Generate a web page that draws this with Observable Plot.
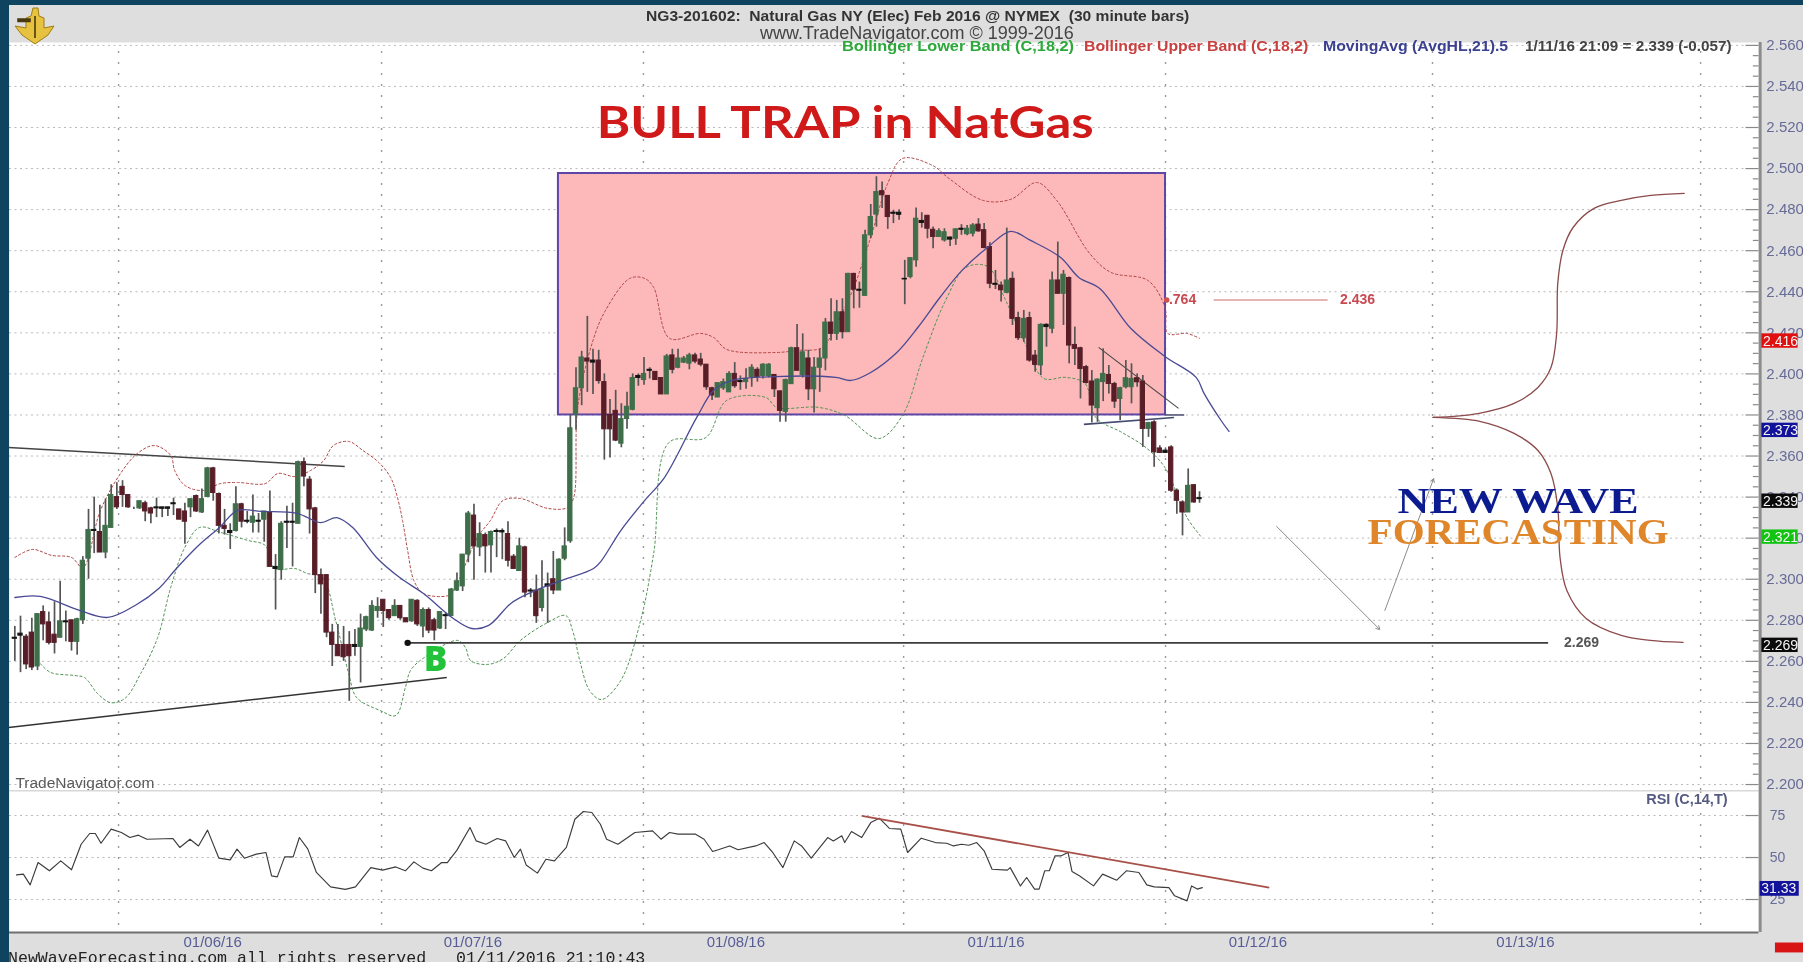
<!DOCTYPE html>
<html><head><meta charset="utf-8">
<script src="https://cdn.jsdelivr.net/npm/d3@7"></script>
<script src="https://cdn.jsdelivr.net/npm/@observablehq/plot@0.6"></script>
<style>
html,body{margin:0;padding:0;background:#0f4460;overflow:hidden}
#stage{position:absolute;left:0;top:0;width:1803px;height:962px;overflow:hidden;filter:blur(.6px);background:#0f4460}
#panel{position:absolute;left:9px;top:5px;right:0;bottom:0;background:#dedede}
#stage svg.plt{position:absolute;left:0}
.h{position:absolute;white-space:pre;font-family:"Liberation Sans",Arial,sans-serif;line-height:1;transform-origin:0 50%}
</style></head><body>
<div id="stage"><div id="panel"></div></div>
<script>
// 30-minute bars, numbered from the left edge of the chart
const barOpen=[2.2715,2.2735,2.272,2.274,2.2575,2.284,2.279,2.273,2.2715,2.2795,
2.28,2.2695,2.28,2.31,2.324,2.323,2.313,2.325,2.34,2.345,
2.341,2.3345,2.3345,2.337,2.3345,2.335,2.335,2.335,2.337,2.334,
2.333,2.335,2.3405,2.3325,2.34,2.354,2.3415,2.326,2.3235,2.3235,
2.3365,2.3285,2.3275,2.328,2.329,2.3325,2.306,2.3045,2.328,2.328,
2.327,2.357,2.3485,2.3345,2.302,2.302,2.274,2.268,2.268,2.268,
2.268,2.267,2.2755,2.275,2.2845,2.29,2.285,2.282,2.287,2.281,
2.2795,2.2895,2.277,2.285,2.28,2.276,2.2825,2.282,2.2945,2.2965,
2.312,2.331,2.3155,2.3215,2.3165,2.3235,2.3235,2.322,2.311,2.304,
2.3155,2.2945,2.2945,2.286,2.2975,2.3,2.2945,2.31,2.3185,2.38,
2.393,2.4075,2.4065,2.4065,2.396,2.38,2.382,2.366,2.378,2.3825,
2.399,2.397,2.4015,2.401,2.398,2.39,2.409,2.403,2.4055,2.405,
2.409,2.407,2.4045,2.393,2.3885,2.393,2.391,2.4,2.3965,2.396,
2.3985,2.402,2.399,2.399,2.3995,2.3915,2.3815,2.395,2.4125,2.3995,
2.4075,2.3925,2.403,2.4075,2.425,2.4195,2.43,2.4203,2.4487,2.441,
2.438,2.4675,2.4776,2.489,2.4867,2.4785,2.4785,2.4463,2.4472,2.4553,
2.4745,2.477,2.4702,2.4667,2.465,2.4664,2.4658,2.4707,2.468,2.4683,
2.4727,2.47,2.4618,2.4439,2.443,2.4395,2.4463,2.4272,2.4174,2.4272,
2.4089,2.4041,2.4239,2.422,2.4455,2.439,2.4467,2.4141,2.4125,2.4033,
2.3963,2.3833,2.396,2.3995,2.3951,2.3878,2.3935,2.3935,2.3979,2.3963,
2.3732,2.3764,2.3637,2.3626,2.3642,2.3431,2.3374,2.3325,2.3458,2.3395];
const barHigh=[2.277,2.282,2.273,2.281,2.283,2.287,2.284,2.289,2.299,2.2845,
2.28,2.281,2.311,2.334,2.34,2.336,2.339,2.346,2.347,2.348,
2.341,2.335,2.338,2.338,2.335,2.3395,2.335,2.335,2.3395,2.334,
2.337,2.339,2.341,2.344,2.3545,2.3545,2.342,2.334,2.327,2.345,
2.337,2.333,2.341,2.332,2.333,2.343,2.312,2.328,2.3355,2.337,
2.3575,2.359,2.35,2.335,2.305,2.302,2.278,2.278,2.277,2.2745,
2.2755,2.283,2.282,2.2895,2.291,2.29,2.285,2.29,2.287,2.281,
2.29,2.29,2.286,2.286,2.281,2.284,2.2835,2.2955,2.303,2.312,
2.333,2.3365,2.3275,2.3225,2.3235,2.3245,2.3245,2.328,2.312,2.32,
2.316,2.2955,2.302,2.309,2.303,2.3135,2.31,2.325,2.38,2.403,
2.411,2.428,2.412,2.4115,2.40,2.3875,2.392,2.3855,2.391,2.4,
2.4,2.408,2.403,2.401,2.398,2.4095,2.412,2.412,2.4085,2.41,
2.41,2.41,2.4045,2.3935,2.3955,2.3975,2.401,2.4055,2.399,2.4025,
2.4045,2.403,2.405,2.405,2.3995,2.3915,2.3975,2.413,2.424,2.4195,
2.4115,2.408,2.412,2.427,2.4366,2.4358,2.4366,2.449,2.449,2.4447,
2.47,2.4825,2.496,2.4935,2.4867,2.4797,2.48,2.4553,2.4564,2.4808,
2.4785,2.4772,2.4715,2.4707,2.4707,2.4667,2.4707,2.4727,2.4723,2.4732,
2.4756,2.4732,2.4639,2.4504,2.4447,2.471,2.4496,2.43,2.4309,2.43,
2.4114,2.4244,2.4244,2.4496,2.4642,2.4504,2.4472,2.4228,2.413,2.4041,
2.4016,2.3976,2.4122,2.4041,2.3959,2.3935,2.4065,2.4049,2.4,2.3992,
2.3764,2.3772,2.365,2.3635,2.365,2.3439,2.3382,2.3537,2.346,2.3426];
const barLow=[2.26,2.2545,2.256,2.2555,2.2555,2.27,2.268,2.2636,2.2715,2.2695,
2.265,2.263,2.278,2.30,2.3125,2.313,2.31,2.325,2.334,2.335,
2.3345,2.334,2.334,2.328,2.327,2.33,2.33,2.3305,2.331,2.329,
2.317,2.33,2.3325,2.332,2.34,2.338,2.322,2.3215,2.3145,2.323,
2.325,2.327,2.3225,2.3225,2.318,2.306,2.285,2.2995,2.315,2.306,
2.327,2.345,2.322,2.293,2.283,2.2715,2.2575,2.2625,2.26,2.2405,
2.2625,2.2495,2.2745,2.2745,2.281,2.2765,2.28,2.282,2.28,2.279,
2.279,2.277,2.2715,2.2735,2.27,2.2755,2.2755,2.282,2.294,2.294,
2.308,2.2995,2.311,2.303,2.303,2.3105,2.3095,2.306,2.305,2.304,
2.291,2.291,2.2785,2.284,2.2785,2.2925,2.2945,2.309,2.3175,2.3725,
2.3845,2.391,2.39,2.395,2.358,2.359,2.367,2.364,2.373,2.382,
2.394,2.3945,2.3975,2.397,2.39,2.39,2.4,2.4025,2.405,2.402,
2.405,2.4035,2.392,2.387,2.3885,2.392,2.391,2.393,2.392,2.3925,
2.3935,2.396,2.3975,2.398,2.3885,2.3765,2.3765,2.395,2.4015,2.398,
2.387,2.381,2.391,2.4015,2.416,2.4163,2.417,2.4203,2.4317,2.432,
2.4379,2.4659,2.4715,2.4805,2.4704,2.4732,2.4748,2.4337,2.4463,2.452,
2.471,2.4658,2.461,2.4665,2.4642,2.462,2.4626,2.4675,2.4673,2.4667,
2.469,2.461,2.4415,2.4411,2.435,2.439,2.4236,2.4163,2.4154,2.4057,
2.4008,2.3992,2.413,2.4195,2.439,2.4236,2.4049,2.4041,2.3878,2.3951,
2.3761,2.3764,2.3865,2.3902,2.3832,2.3772,2.3927,2.3854,2.3935,2.3642,
2.3691,2.3545,2.3614,2.3614,2.3423,2.3317,2.3211,2.3325,2.337,2.337];
const barClose=[2.271,2.2725,2.2585,2.257,2.283,2.278,2.269,2.269,2.2795,2.279,
2.2695,2.2805,2.309,2.324,2.3235,2.313,2.326,2.341,2.335,2.341,
2.335,2.3345,2.338,2.333,2.332,2.3345,2.3343,2.3343,2.3365,2.329,
2.328,2.339,2.333,2.339,2.354,2.342,2.326,2.3245,2.3225,2.3365,
2.328,2.328,2.3305,2.3285,2.333,2.306,2.305,2.327,2.3275,2.3275,
2.357,2.35,2.334,2.302,2.2975,2.274,2.268,2.2625,2.262,2.2625,
2.267,2.276,2.2815,2.287,2.2865,2.2845,2.281,2.287,2.281,2.279,
2.29,2.278,2.285,2.275,2.275,2.284,2.282,2.295,2.299,2.312,
2.332,2.316,2.322,2.316,2.323,2.323,2.3228,2.309,2.305,2.316,
2.2935,2.294,2.282,2.295,2.2965,2.2945,2.3095,2.316,2.3735,2.393,
2.408,2.406,2.4055,2.3965,2.373,2.373,2.3675,2.378,2.384,2.398,
2.398,2.4,2.402,2.397,2.39,2.4085,2.402,2.4075,2.4075,2.409,
2.406,2.4045,2.3935,2.3895,2.3955,2.396,2.4,2.394,2.396,2.3975,
2.403,2.3985,2.4045,2.4045,2.3925,2.382,2.397,2.4125,2.4015,2.4105,
2.3925,2.403,2.4075,2.425,2.4195,2.43,2.4203,2.4487,2.441,2.4405,
2.4675,2.4764,2.4886,2.487,2.4764,2.478,2.4775,2.446,2.4564,2.4756,
2.4735,2.4707,2.4667,2.4695,2.469,2.4654,2.4704,2.4702,2.4707,2.4723,
2.4694,2.4613,2.4439,2.4434,2.4407,2.4455,2.4268,2.4174,2.4268,2.4065,
2.4044,2.4239,2.4228,2.4455,2.439,2.4483,2.4138,2.4122,2.4024,2.3956,
2.3846,2.3972,2.4,2.3951,2.3865,2.393,2.3979,2.3976,2.3959,2.3732,
2.3761,2.3618,2.3615,2.3615,2.3431,2.3382,2.3325,2.3455,2.3374,2.339];

// indicators: [bar number], [value]
const maBar=[1,5.5,12.4,17.4,22.5,26.4,29.5,33.4,37.1,40.3,44.5,50.9,54.9,57.8,60.6,64.8,68.9,73.1,78.1,81.6,84.6,88.5,92,97.5,103.1,104.5,107.9,112.1,115.6,121.3,124.3,127.5,135.1,145.8,148.5,152,156.6,160.3,164.2,168.1,172.6,176.7,180.2,185.5,188.7,192.4,197.9,203.9,209.4,210.8,213.8,215.2];
const maVal=[2.2911,2.2916,2.2848,2.2814,2.2877,2.2955,2.3052,2.3164,2.3252,2.3335,2.333,2.332,2.3276,2.33,2.3252,2.3106,2.3008,2.293,2.2814,2.276,2.2775,2.2882,2.2935,2.2994,2.3052,2.3091,2.3237,2.3383,2.3495,2.3788,2.392,2.3968,2.3987,2.3983,2.3968,2.4007,2.4104,2.4226,2.4372,2.4504,2.4616,2.4694,2.465,2.4567,2.447,2.4416,2.4221,2.4085,2.3983,2.3905,2.3773,2.372];
const upperBar=[1,4.1,7.5,11,13,16.1,19.65,22.6,25.6,28.5,29.2,31,34.1,37.3,40.3,45.2,47.4,50.4,53.2,55.5,57.2,59.9,62.4,65.2,67.3,68.5,69.4,70.3,71.4,73.1,77.4,78.4,82.6,84.9,87.1,90.2,95,98.5,99.6,100.3,103,105.2,109.5,112.1,113.7,116.5,122,124.3,126.6,135.1,139,143.5,145.8,148.8,152,155,157.6,162.9,165.8,171.8,176.7,181.3,184.8,190.6,194.4,200.9,203.9,204.4,207.8,210];
const upperVal=[2.3106,2.3145,2.3116,2.3106,2.3057,2.3335,2.3515,2.3612,2.3651,2.3603,2.3529,2.3457,2.3432,2.3466,2.3471,2.3466,2.3515,2.35,2.353,2.3578,2.3651,2.3671,2.3627,2.3569,2.3495,2.3398,2.3286,2.314,2.2994,2.293,2.292,2.2945,2.3203,2.3286,2.3383,2.3393,2.3345,2.3349,2.3398,2.3837,2.4163,2.4309,2.4465,2.4465,2.4421,2.4173,2.4197,2.4177,2.4119,2.4104,2.4114,2.4129,2.4236,2.4406,2.4665,2.4928,2.5049,2.5015,2.4952,2.4845,2.485,2.4932,2.4845,2.4587,2.4494,2.4455,2.4324,2.4197,2.4197,2.4173];
const lowerBar=[5.5,7.3,11.5,13.3,15.6,17.9,20.4,23.2,26.2,28.5,31,33.6,37.3,42.1,45.2,46.8,50.4,52.6,55.3,57.6,59.9,61.3,65.5,68.2,69.9,70.8,73,79.1,80.5,81.4,84.4,87.2,90.2,95,98.2,99.4,100.8,102.4,104.5,107.9,111.4,113.7,116.4,122.9,126.6,133.5,135.4,142.8,147.4,153.4,157.6,161.2,165.2,168.8,172.6,175.8,179.4,182.5,186.4,189.8,191.7,196.3,200.5,203.9,207.8,210.4];
const lowerVal=[2.2589,2.2546,2.2531,2.2521,2.2443,2.2399,2.2419,2.254,2.2716,2.296,2.3155,2.3252,2.3228,2.3189,2.3164,2.3052,2.3052,2.3028,2.3008,2.2799,2.2541,2.2424,2.236,2.2336,2.2473,2.2555,2.2614,2.2702,2.2667,2.2604,2.2585,2.2614,2.2702,2.2789,2.2823,2.275,2.2589,2.2458,2.2414,2.2507,2.2799,2.3125,2.3666,2.369,2.3871,2.3885,2.3837,2.3837,2.3798,2.3685,2.3798,2.408,2.4358,2.4518,2.4523,2.4358,2.4138,2.3978,2.3983,2.3953,2.3788,2.3715,2.3642,2.3544,2.33,2.3203];
const rsiBar=[1.3,2.5,3.7,5.1,7.1,9.1,11,12.7,14.2,15.2,16.2,18,19.8,21.3,22.8,24.3,28.9,30.1,31.9,33.4,35,37,39,40.2,41.5,43.6,45.3,46.3,47.3,48.6,50.1,51.2,52.7,54.2,56.7,59.3,61.1,63.8,65.9,68.2,69.9,71.4,73,74.5,76.3,77.3,79,81.3,82.4,84.1,86.1,87.6,89.1,90.2,91.2,93.2,94.7,96.2,98.3,99.8,101.3,102.8,104.3,105.4,107.4,110.4,113.5,115,116.5,118,121.1,122.6,124.1,125.1,127.1,128.6,131.7,133.2,134.7,136.5,138.5,139.8,141.5,144.4,145.4,146.9,147.4,148.6,150.4,152,153.5,155.3,157.3,158.5,160.9,163.4,165.4,166.6,168,169.3,170.7,172,173.4,176.1,176.6,178.4,179.5,180.9,181.7,182.7,183.5,184.5,185.6,186.8,187.5,188.8,191.3,192.9,195.4,197.1,199.3,200.7,202,204.6,205.6,207.8,208.6,209.6,210.5];
const rsiVal=[39.7,40.1,33.7,47,42.1,48,42.7,57.9,64.3,64.3,58.5,66.9,64.9,61.9,63.3,60.9,61.3,56,60.9,56.9,66.3,49.6,48.6,55,49.6,52,53,39.1,38.5,50.4,50.4,61.9,55,41.1,32.5,31,32.5,44,42.5,44.4,42.1,47.4,43.7,42.1,47,47,54.4,67.9,59.9,57.9,61.3,59.9,50,55,45.6,40.7,49,48,56,72.8,77.4,76.8,69.8,60.9,57.9,64.9,65.9,60.9,64.9,63.9,63.9,60.9,53.6,54.6,56.9,54.6,56.9,58.9,53,44,59.9,56.9,49.6,61.9,59.9,62.9,58.9,65.5,61.9,70.8,73.4,67.3,66.9,53,61.5,58.9,58.5,56.9,57.9,57.3,58.9,54,43,42.5,44,33.1,38.1,31.2,31.2,42.1,42.1,51,51,53,41.7,39.1,33.1,40.1,36.5,42.1,41.1,33.7,32.5,32.1,27.2,24.2,33.1,31.2,32.1];

// forecast brace
const braceUpBar=[251.2,259.1,265.5,269.7,272,273,273.2,274.1,275.9,279.6,284.4,289.6,295.5];
const braceUpVal=[2.3788,2.3807,2.3856,2.3934,2.4031,2.4197,2.4441,2.4601,2.4713,2.4806,2.4845,2.4869,2.4879];
const braceDownBar=[251.2,259.6,265.5,269.7,272,273.2,273.6,274.8,278.2,284.4,289.5,295.3];
const braceDownVal=[2.3788,2.3768,2.371,2.3627,2.3515,2.3349,2.3106,2.2945,2.2809,2.2726,2.2702,2.2692];

// axes and labels
const priceTicks=[2.2,2.22,2.24,2.26,2.28,2.3,2.32,2.34,2.36,2.38,2.4,2.42,2.44,2.46,2.48,2.5,2.52,2.54,2.56];
const priceMinor=d3.range(2.205,2.56,0.005).filter(v=>Math.abs(v*50-Math.round(v*50))>0.01);
const dayLineBars=[19.3,65.7,111.9,157.8,204,251.1,298.4];
const dateLabels=["01/06/16","01/07/16","01/08/16","01/11/16","01/12/16","01/13/16"];
const dateBars=[35.9,81.8,128.2,174.1,220.3,267.5];
const rsiTicks=[25,50,75];
const priceTags=[["2.416",2.416,"#e01010"],["2.373",2.3725,"#12129a"],["2.339",2.338,"#0a0a0a"],["2.321",2.3205,"#12c412"],["2.269",2.2678,"#0a0a0a"]];

const X={type:"linear",domain:[0.06,308.7],axis:null};
const WIDTH=1803, mr=44.5, ml=9;
const sans='"Liberation Sans",Arial,sans-serif';
const bars=barOpen.map((o,i)=>({n:i+1,o,h:barHigh[i],l:barLow[i],c:barClose[i]}));
const barColor=d=>Math.abs(d.c-d.o)<0.0012?"#141414":d.c>d.o?"#3f6f4a":"#581e28";
const xy=(a,b)=>a.map((n,i)=>({n,v:b[i]}));
const note=(text,n,v,o)=>Plot.text([{text,n,v}],{x:"n",y:"v",text:"text",fontFamily:sans,textAnchor:"start",...o});
const seg=(n1,v1,n2,v2,o)=>Plot.link([{n1,v1,n2,v2}],{x1:"n1",y1:"v1",x2:"n2",y2:"v2",...o});

const main=Plot.plot({
  width:WIDTH,height:790,marginLeft:ml,marginRight:mr,marginTop:42,marginBottom:0,
  style:{background:"transparent"},className:"plt",
  x:X,y:{type:"linear",domain:[2.1971,2.5614],axis:null},
  marks:[
    Plot.frame({fill:"#fff"}),
    Plot.ruleY(priceTicks,{x1:0.06,x2:306.4,stroke:"#b9b9b9",strokeWidth:1,strokeDasharray:"2 3.5"}),
    Plot.ruleX(dayLineBars,{y1:2.1971,y2:2.56,stroke:"#9a9a9a",strokeWidth:1.4,strokeDasharray:"2 9"}),
    // bull-trap zone
    Plot.rect([{x1:96.9,x2:204,y1:2.38,y2:2.4976}],{x1:"x1",x2:"x2",y1:"y1",y2:"y2",fill:"#fdb9b9",stroke:"#5f46a6",strokeWidth:2}),
    seg(204,2.38,207.3,2.38,{stroke:"#55557a",strokeWidth:1.6}),
    // triangle trendlines
    seg(-0.1,2.3642,59.2,2.3549,{stroke:"#444",strokeWidth:1.5}),
    seg(-0.1,2.2278,77.2,2.2521,{stroke:"#333",strokeWidth:1.5}),
    seg(192.2,2.4129,206.3,2.3832,{stroke:"#444",strokeWidth:1.1}),
    seg(189.6,2.3754,205.5,2.3788,{stroke:"#444a70",strokeWidth:1.6}),
    // Bollinger bands
    Plot.line(xy(upperBar,upperVal),{x:"n",y:"v",stroke:"#b04444",strokeWidth:1,strokeDasharray:"2.2 2.4",curve:"catmull-rom"}),
    Plot.line(xy(lowerBar,lowerVal),{x:"n",y:"v",stroke:"#4c9050",strokeWidth:1,strokeDasharray:"2.2 2.6",curve:"catmull-rom"}),
    // candles
    Plot.ruleX(bars,{x:"n",y1:"l",y2:"h",stroke:"#555",strokeWidth:1.7}),
    Plot.rect(bars,{x1:d=>d.n-0.38,x2:d=>d.n+0.38,y1:d=>Math.min(d.o,d.c),y2:d=>Math.max(d.o,d.c),fill:barColor,stroke:barColor,strokeWidth:1}),
    // moving average
    Plot.line(xy(maBar,maVal),{x:"n",y:"v",stroke:"#4a4a94",strokeWidth:1.3,curve:"catmull-rom"}),
    // 2.269 buy line
    seg(70.3,2.269,271.5,2.269,{stroke:"#3c3c3c",strokeWidth:1.6}),
    Plot.dot([{n:70.3,v:2.269}],{x:"n",y:"v",r:3.2,fill:"#111"}),
    note("B",75.2,2.2609,{textAnchor:"middle",fontFamily:'"Open Sans",sans-serif',fontWeight:800,fontSize:35,fill:"#22c23a"}),
    note("2.269",274.3,2.269,{fontSize:14,fontWeight:700,fill:"#555"}),
    // fib note
    Plot.dot([{n:204.2,v:2.436}],{x:"n",y:"v",r:2.8,fill:"#d05050"}),
    note(".764",204.6,2.436,{fontSize:14,fontWeight:700,fill:"#c84a50"}),
    seg(212.5,2.436,232.6,2.436,{stroke:"#d06a6a",strokeWidth:1.2}),
    note("2.436",234.8,2.436,{fontSize:14,fontWeight:700,fill:"#c84a50"}),
    // forecast path
    Plot.arrow([{a:223.6,b:2.3257,c:241.8,d:2.2755},{a:242.7,b:2.2848,c:251.3,d:2.349}],{x1:"a",y1:"b",x2:"c",y2:"d",stroke:"#8c8c8c",strokeWidth:1,headLength:6,bend:false}),
    Plot.line(xy(braceUpBar,braceUpVal),{x:"n",y:"v",stroke:"#8c4a4a",strokeWidth:1.3,curve:"catmull-rom"}),
    Plot.line(xy(braceDownBar,braceDownVal),{x:"n",y:"v",stroke:"#8c4a4a",strokeWidth:1.3,curve:"catmull-rom"}),
    note("BULL TRAP in NatGas",147.5,2.5215,{textAnchor:"middle",fontFamily:'Lato,"Open Sans",sans-serif',fontWeight:700,fontSize:43,fill:"#d01a1a",className:"fit-title"}),
    note("NEW WAVE",266.2,2.3375,{textAnchor:"middle",fontFamily:'"Liberation Serif",serif',fontWeight:700,fontSize:35,fill:"#0c1c90",className:"fit-new"}),
    note("FORECASTING",266.2,2.3228,{textAnchor:"middle",fontFamily:'"Liberation Serif",serif',fontWeight:700,fontSize:35,fill:"#e0862a",className:"fit-fore"}),
    note("TradeNavigator.com",1.1,2.2005,{fontSize:15.5,fill:"#5a5a5a"}),
    // right axis
    Plot.ruleY(priceTicks,{x1:306.4,x2:308.7,stroke:"#8a8a8a",strokeWidth:1.2}),
    Plot.ruleY(priceMinor,{x1:307.7,x2:308.7,stroke:"#8a8a8a",strokeWidth:1.2}),
    Plot.ruleX([308.9],{y1:2.1971,y2:2.5614,stroke:"#8c8c8c",strokeWidth:3}),
    Plot.text(priceTicks,{x:310,y:d=>d,text:d=>d3.format(".3f")(d),textAnchor:"start",fontFamily:sans,fontSize:15,fill:"#666b98"}),
    // current-value tags
    Plot.rect(priceTags,{x1:309.2,x2:315.6,y1:d=>d[1]-0.0035,y2:d=>d[1]+0.0035,fill:d=>d[2]}),
    Plot.text(priceTags,{x:309.4,y:d=>d[1],text:d=>d[0],textAnchor:"start",fontFamily:sans,fontSize:14,fontWeight:400,fill:"#f4f4f4"})
  ]
});
main.style.top="0";main.style.height="790px";main.style.maxWidth="none";

// stretch the three hand-lettered annotations to their drawn widths
[["fit-title",497],["fit-new",241],["fit-fore",301]].forEach(([c,w])=>{
  main.querySelectorAll(`.${c} text`).forEach(t=>{t.setAttribute("textLength",w);t.setAttribute("lengthAdjust","spacingAndGlyphs");});
});

const rsi=Plot.plot({
  width:WIDTH,height:172,marginLeft:ml,marginRight:mr,marginTop:0,marginBottom:30,
  style:{background:"transparent"},className:"plt",
  x:X,y:{type:"linear",domain:[5.36,89.9],axis:null},
  marks:[
    Plot.frame({fill:"#fff"}),
    Plot.ruleY(rsiTicks,{x1:0.06,x2:306.4,stroke:"#b9b9b9",strokeWidth:1,strokeDasharray:"2 3.5"}),
    Plot.ruleX(dayLineBars,{y1:9.5,y2:89.9,stroke:"#9a9a9a",strokeWidth:1.4,strokeDasharray:"2 9"}),
    Plot.ruleY([89.9],{x1:0.06,x2:308.7,stroke:"#d8d8d8",strokeWidth:2}),
    Plot.ruleY([5.36],{x1:0.06,x2:308.7,stroke:"#707070",strokeWidth:1.8}),
    Plot.line(xy(rsiBar,rsiVal),{x:"n",y:"v",stroke:"#3c3c3c",strokeWidth:1.15}),
    seg(150.4,74.8,222.3,32.1,{stroke:"#a85048",strokeWidth:1.8}),
    note("RSI (C,14,T)",288.8,84.5,{fontSize:14.5,fontWeight:700,fill:"#555a80"}),
    Plot.ruleY(rsiTicks,{x1:306.4,x2:308.7,stroke:"#8a8a8a",strokeWidth:1.2}),
    Plot.ruleX([308.9],{y1:5.36,y2:89.9,stroke:"#8c8c8c",strokeWidth:3}),
    Plot.text(rsiTicks,{x:310.6,y:d=>d,text:String,textAnchor:"start",fontFamily:sans,fontSize:14,fill:"#666b98"}),
    Plot.rect([{v:31.33}],{x1:308.9,x2:315.8,y1:d=>d.v-4.4,y2:d=>d.v+4.4,fill:"#12129a"}),
    Plot.text([{v:31.33}],{x:309.1,y:"v",text:d=>String(d.v),textAnchor:"start",fontFamily:sans,fontSize:14,fill:"#f4f4f4"}),
    // date labels below the panel
    Plot.text(dateLabels,{x:(d,i)=>dateBars[i],y:()=>-0.3,text:d=>d,fontFamily:sans,fontSize:15,fill:"#565c96"}),
    Plot.rect([{}],{x1:311.6,x2:320,y1:-0.9,y2:-6.8,fill:"#d81414"})
  ]
});
rsi.style.top="790px";rsi.style.height="172px";rsi.style.maxWidth="none";

const stage=document.getElementById("stage");
stage.append(main,rsi);

function hdr(text,left,top,size,weight,color,sx,extra){
  const d=document.createElement("div");d.className="h";d.textContent=text;
  d.style.cssText=`left:${left}px;top:${top}px;font-size:${size}px;font-weight:${weight};color:${color};transform:scaleX(${sx});${extra||""}`;
  stage.append(d);
}
hdr("NG3-201602:  Natural Gas NY (Elec) Feb 2016 @ NYMEX  (30 minute bars)",646,9,14,700,"#333",1.115);
hdr("www.TradeNavigator.com © 1999-2016",760,24,18,400,"#444",1);
hdr("Bollinger Lower Band (C,18,2)",842,39,14,700,"#2da83a",1.165);
hdr("Bollinger Upper Band (C,18,2)",1084,39,14,700,"#c84040",1.13);
hdr("MovingAvg (AvgHL,21).5",1323,39,14,700,"#3c4090",1.13);
hdr("1/11/16 21:09 = 2.339 (-0.057)",1525,39,14,700,"#444",1.09);
hdr("NewWaveForecasting.com all rights reserved   01/11/2016 21:10:43",8,951,16.6,400,"#222",1,'font-family:"Liberation Mono",monospace');

// emblem in the top-left corner
const em=document.createElement("div");
em.style.cssText="position:absolute;left:12px;top:6px;width:46px;height:40px";
em.innerHTML='<svg width="46" height="40" viewBox="0 0 46 40"><path d="M21 2h5l1 8 5 2v10l10-2-6 9-13 9-13-9-7-9 11 2V12l5-2z" fill="#e6c240" stroke="#a07d12" stroke-width="1"/><path d="M6 13h12v2.5H6zM23 10v22" stroke="#4a3a10" fill="#4a3a10" stroke-width="1.6"/></svg>';
stage.append(em);
</script>
</body></html>
